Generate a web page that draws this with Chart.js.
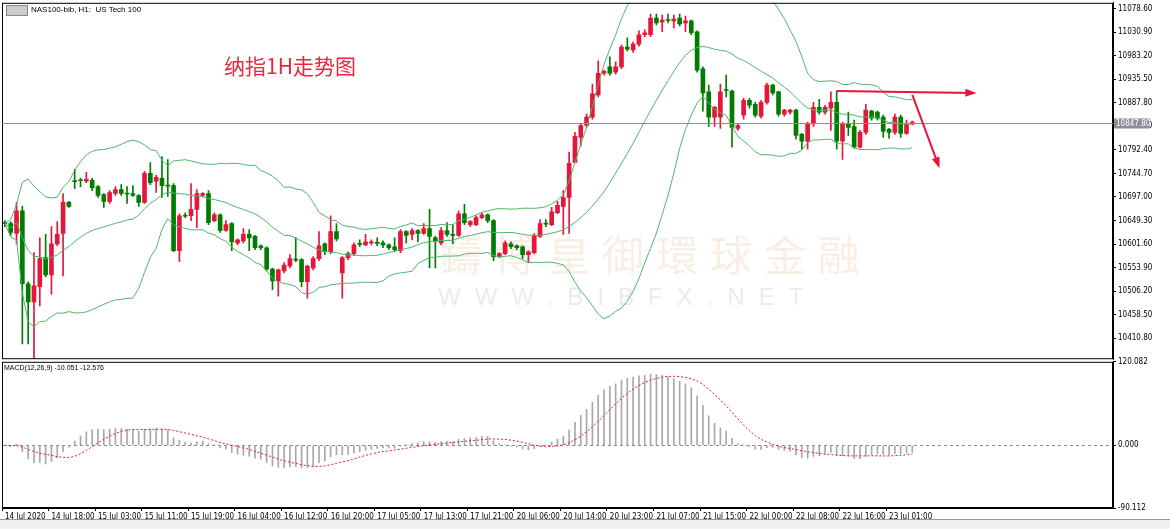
<!DOCTYPE html>
<html><head><meta charset="utf-8">
<script src="https://cdn.jsdelivr.net/npm/chart.js@4"></script>
<style>
body{margin:0;width:1170px;height:529px;overflow:hidden;background:#fff;position:relative;font-family:'Liberation Sans',sans-serif}
canvas{position:absolute;left:0}
.t{position:absolute;white-space:nowrap}
</style></head><body>
<div class="t" style="left:440px;top:222px;font-size:42px;color:rgba(232,190,150,0.25);letter-spacing:12px;font-family:'Noto Sans CJK TC'">鑄博皇御環球金融</div>
<div class="t" style="left:438px;top:283px;font-size:24px;color:rgba(150,150,150,0.2);letter-spacing:14px">WWW.BIBFX.NET</div>
<canvas id="main" width="1170" height="370" style="top:-4px"></canvas>
<canvas id="macd" width="1170" height="174" style="top:355px"></canvas>
<div class="t" style="left:31px;top:5px;font-size:8px;color:#000">NAS100-bib, H1:&nbsp; US Tech 100</div>
<div class="t" style="left:6px;top:5px;width:20px;height:9px;background:#ccc;border:1px solid #888"></div>
<div class="t" style="left:224px;top:50px;font-size:21px;color:#e8283c;font-family:'Noto Sans CJK SC'">纳指1H走势图</div>
<div class="t" style="left:4px;top:364px;font-size:7px;color:#000">MACD(12,26,9) -10.051 -12.576</div>
<div class="t" style="left:0;top:519px;width:1170px;height:10px;background:#f0f0f0;border-top:1px solid #999"></div>
<script>
const opens=[10645,10643,10623,10669,10521,10484,10515,10574,10539,10602,10623,10686,10730,10732,10729,10731,10718,10702,10688,10704,10712,10705,10704,10700,10686,10745,10729,10735,10721,10720,10588,10660,10659,10672,10700,10704,10649,10661,10629,10643,10604,10608,10621,10617,10598,10594,10551,10527,10547,10557,10571,10570,10525,10553,10572,10602,10586,10627,10543,10574,10582,10603,10600,10604,10605,10604,10600,10596,10588,10627,10621,10629,10623,10633,10614,10604,10629,10621,10619,10663,10641,10641,10655,10661,10649,10576,10582,10602,10598,10596,10580,10584,10617,10644,10641,10665,10678,10696,10767,10818,10842,10859,10904,10948,10961,10950,10961,11001,10995,11007,11026,11026,11060,11052,11057,11054,11060,11050,11054,11032,10957,10910,10859,10859,10915,10912,10836,10863,10893,10885,10861,10889,10924,10910,10865,10869,10873,10824,10810,10845,10879,10869,10877,10889,10810,10845,10840,10798,10828,10871,10869,10859,10834,10828,10859,10826,10845];
const closes=[10643,10625,10669,10521,10484,10517,10572,10539,10602,10621,10686,10678,10728,10730,10733,10716,10700,10688,10706,10712,10704,10703,10700,10686,10745,10726,10737,10720,10719,10588,10659,10658,10672,10704,10704,10645,10661,10629,10641,10606,10610,10621,10614,10594,10594,10551,10527,10549,10559,10572,10569,10525,10557,10572,10598,10586,10627,10612,10574,10582,10600,10601,10606,10606,10603,10600,10594,10590,10627,10619,10629,10623,10633,10617,10608,10629,10621,10619,10663,10645,10647,10655,10661,10649,10576,10582,10604,10596,10594,10580,10586,10619,10643,10642,10667,10680,10696,10765,10820,10842,10859,10906,10948,10952,10948,10961,11001,10997,11007,11026,11030,11060,11050,11056,11055,11058,11048,11054,11030,10954,10908,10859,10879,10910,10913,10838,10842,10893,10883,10863,10889,10924,10908,10865,10873,10873,10822,10810,10845,10879,10869,10879,10889,10810,10845,10838,10798,10828,10873,10857,10857,10830,10828,10859,10826,10845,10849];
const highs=[10649,10647,10686,10678,10525,10584,10614,10621,10637,10647,10704,10688,10753,10735,10747,10735,10720,10704,10710,10718,10722,10718,10720,10702,10749,10767,10741,10779,10773,10724,10663,10665,10724,10712,10706,10710,10665,10663,10649,10645,10612,10633,10631,10619,10600,10596,10553,10551,10564,10580,10614,10572,10559,10576,10627,10604,10659,10643,10576,10586,10604,10610,10621,10610,10614,10608,10602,10614,10631,10629,10633,10631,10643,10672,10617,10635,10645,10641,10669,10682,10649,10659,10665,10663,10651,10584,10608,10606,10600,10598,10588,10623,10651,10651,10676,10688,10710,10788,10828,10845,10865,10926,10973,10954,10981,10971,11005,11020,11011,11034,11036,11068,11068,11066,11068,11066,11068,11064,11056,11034,10961,10924,10881,10926,10944,10914,10845,10897,10897,10889,10893,10928,10926,10912,10875,10875,10875,10826,10849,10889,10895,10883,10910,10912,10849,10869,10853,10832,10885,10873,10871,10863,10836,10865,10863,10853,10851];
const lows=[10637,10619,10602,10399,10399,10370,10476,10535,10500,10598,10537,10676,10714,10718,10726,10710,10696,10676,10684,10700,10700,10684,10698,10678,10684,10722,10706,10696,10698,10586,10566,10655,10649,10635,10698,10641,10647,10625,10627,10588,10600,10604,10588,10590,10590,10547,10509,10496,10543,10553,10566,10515,10492,10549,10568,10580,10582,10608,10492,10570,10578,10596,10598,10600,10598,10594,10590,10586,10584,10604,10610,10606,10621,10553,10553,10600,10617,10602,10617,10641,10637,10639,10653,10645,10568,10574,10580,10592,10590,10572,10564,10582,10615,10637,10639,10663,10621,10623,10800,10800,10838,10855,10900,10944,10944,10946,10957,10993,10990,11003,11022,11022,11046,11032,11050,11040,11044,11032,11026,10950,10871,10840,10840,10836,10900,10798,10832,10855,10877,10859,10857,10885,10904,10861,10861,10865,10814,10794,10794,10840,10865,10865,10832,10794,10773,10822,10796,10796,10824,10853,10853,10818,10816,10824,10818,10824,10843];
const tickLabels=["14 Jul 2020","14 Jul 18:00","15 Jul 03:00","15 Jul 11:00","15 Jul 19:00","16 Jul 04:00","16 Jul 12:00","16 Jul 20:00","17 Jul 05:00","17 Jul 13:00","17 Jul 21:00","20 Jul 06:00","20 Jul 14:00","20 Jul 23:00","21 Jul 07:00","21 Jul 15:00","22 Jul 00:00","22 Jul 08:00","22 Jul 16:00","23 Jul 01:00"];
const priceTicks=[10410.8,10458.5,10506.2,10553.9,10601.6,10649.3,10697.0,10744.7,10792.4,10840.1,10887.8,10935.5,10983.2,11030.9,11078.6];
const macdTicks=[-90.112,0,120.082];
const currentPrice=10847.8;
const trendLevel=[10912,10908];
const downArrow=[10904,10761];

const N=191, n=closes.length;
const cats=Array.from({length:N},(_,i)=>i%8===0&&i/8<tickLabels.length?tickLabels[i/8]:'');
const pad=a=>a.concat(Array(N-a.length).fill(null));
const RED='#e5163a', GRN='#007d00';
const col=opens.map((o,i)=>closes[i]>=o?RED:GRN);
const mid=[],up=[],lo=[];
for(let i=0;i<n;i++){const w=closes.slice(Math.max(0,i-19),i+1);const m=w.reduce((a,b)=>a+b,0)/w.length;const sd=Math.sqrt(w.reduce((a,b)=>a+(b-m)**2,0)/w.length);mid.push(m);up.push(m+2*sd);lo.push(m-2*sd);}
const ema=(p)=>{const k=2/(p+1);let e=closes[0];return closes.map(c=>e=e+k*(c-e));};
const e12=ema(12),e26=ema(26);const macd=e12.map((v,i)=>v-e26[i]);
const sig=macd.map((v,i)=>{const w=macd.slice(Math.max(0,i-8),i+1);return w.reduce((a,b)=>a+b,0)/w.length;});
const F="'Liberation Sans Narrow','DejaVu Sans Condensed','Liberation Sans',sans-serif";
const frame={id:'frame',afterDraw(c){const a=c.chartArea,x=c.ctx;x.save();x.strokeStyle='#000';x.lineWidth=1;x.strokeRect(a.left+0.5,a.top+0.5,a.right-a.left-1,a.bottom-a.top-1);x.restore();}};
const lineDs=(d)=>({type:'line',data:pad(d),borderColor:'#4cb86a',borderWidth:1,pointRadius:0,tension:0,order:0});
new Chart(document.getElementById('main'),{
 data:{labels:cats,datasets:[
  {type:'bar',data:pad(lows.map((l,i)=>[l,highs[i]])),backgroundColor:col,barThickness:1,grouped:false,order:2},
  {type:'bar',data:pad(opens.map((o,i)=>[o,Math.abs(closes[i]-o)<1?o+1.2:closes[i]])),backgroundColor:col,barThickness:4,grouped:false,order:1},
  lineDs(up),lineDs(mid),lineDs(lo)]},
 options:{responsive:false,animation:false,devicePixelRatio:1,layout:{padding:{top:0,left:2,bottom:0,right:0}},
  plugins:{legend:{display:false},tooltip:{enabled:false}},
  scales:{x:{display:false,offset:true},
   y:{position:'right',min:10368,max:11090.8,afterBuildTicks:s=>{s.ticks=priceTicks.map(v=>({value:v}));},afterFit:s=>{s.width=57;},
    grid:{drawOnChartArea:false,tickLength:3,color:'#000'},border:{color:'#000'},
    ticks:{font:{family:F,size:8},color:'#000',padding:2,callback:v=>v.toFixed(2)}}}},
 plugins:[frame,{id:'ann',afterDraw(c){const x=c.ctx,X=c.scales.x,Y=c.scales.y,a=c.chartArea;x.save();
  const py=Math.round(Y.getPixelForValue(currentPrice))+0.5;x.strokeStyle='#8090a0';x.lineWidth=1;x.beginPath();x.moveTo(a.left,py);x.lineTo(a.right,py);x.stroke();
  x.fillStyle='#8a8f98';x.fillRect(a.right+1,py-5,36,10);x.fillStyle='#fff';x.font="8px "+F;x.textBaseline='middle';x.fillText(currentPrice.toFixed(2),a.right+3,py);
  const arrow=(i0,v0,i1,v1)=>{const x0=X.getPixelForValue(i0),y0=Y.getPixelForValue(v0),x1=X.getPixelForValue(i1),y1=Y.getPixelForValue(v1);
   x.strokeStyle='#e5163a';x.fillStyle='#e5163a';x.lineWidth=2;x.beginPath();x.moveTo(x0,y0);x.lineTo(x1,y1);x.stroke();
   const an=Math.atan2(y1-y0,x1-x0);x.beginPath();x.moveTo(x1+3*Math.cos(an),y1+3*Math.sin(an));x.lineTo(x1-8*Math.cos(an)+4*Math.sin(an),y1-8*Math.sin(an)-4*Math.cos(an));x.lineTo(x1-8*Math.cos(an)-4*Math.sin(an),y1-8*Math.sin(an)+4*Math.cos(an));x.closePath();x.fill();};
  arrow(143,trendLevel[0],166.5,trendLevel[1]);arrow(156,downArrow[0],160.5,downArrow[1]);
  x.restore();}}]
});
new Chart(document.getElementById('macd'),{
 data:{labels:cats,datasets:[
  {type:'bar',data:pad(macd),backgroundColor:'#a8a8a8',barThickness:1,order:2},
  {type:'line',data:pad(sig),borderColor:'#e5163a',borderWidth:1,borderDash:[2,2],pointRadius:0,order:1}]},
 options:{responsive:false,animation:false,devicePixelRatio:1,layout:{padding:{top:0,left:2,bottom:0,right:0}},
  plugins:{legend:{display:false},tooltip:{enabled:false}},
  scales:{x:{offset:true,afterFit:s=>{s.height=21;},grid:{drawOnChartArea:false,tickLength:3,color:c=>c.index%8===0&&c.index<=152?'#000':'rgba(0,0,0,0)'},border:{color:'#000'},
    ticks:{autoSkip:false,maxRotation:0,align:'start',padding:1,font:{family:F,size:8},color:'#000'}},
   y:{position:'right',min:-90.112,max:120.082,afterBuildTicks:s=>{s.ticks=macdTicks.map(v=>({value:v}));},afterFit:s=>{s.width=57;},
    grid:{drawOnChartArea:false,tickLength:3,color:'#000'},border:{color:'#000'},
    ticks:{font:{family:F,size:8},color:'#000',padding:2,callback:v=>v.toFixed(3)}}}},
 plugins:[frame,{id:'zero',beforeDatasetsDraw(c){const x=c.ctx,a=c.chartArea,y=Math.round(c.scales.y.getPixelForValue(0))+0.5;x.save();x.strokeStyle='#888';x.setLineDash([3,3]);x.beginPath();x.moveTo(a.left,y);x.lineTo(a.right,y);x.stroke();x.restore();}}]
});
</script></body></html>
